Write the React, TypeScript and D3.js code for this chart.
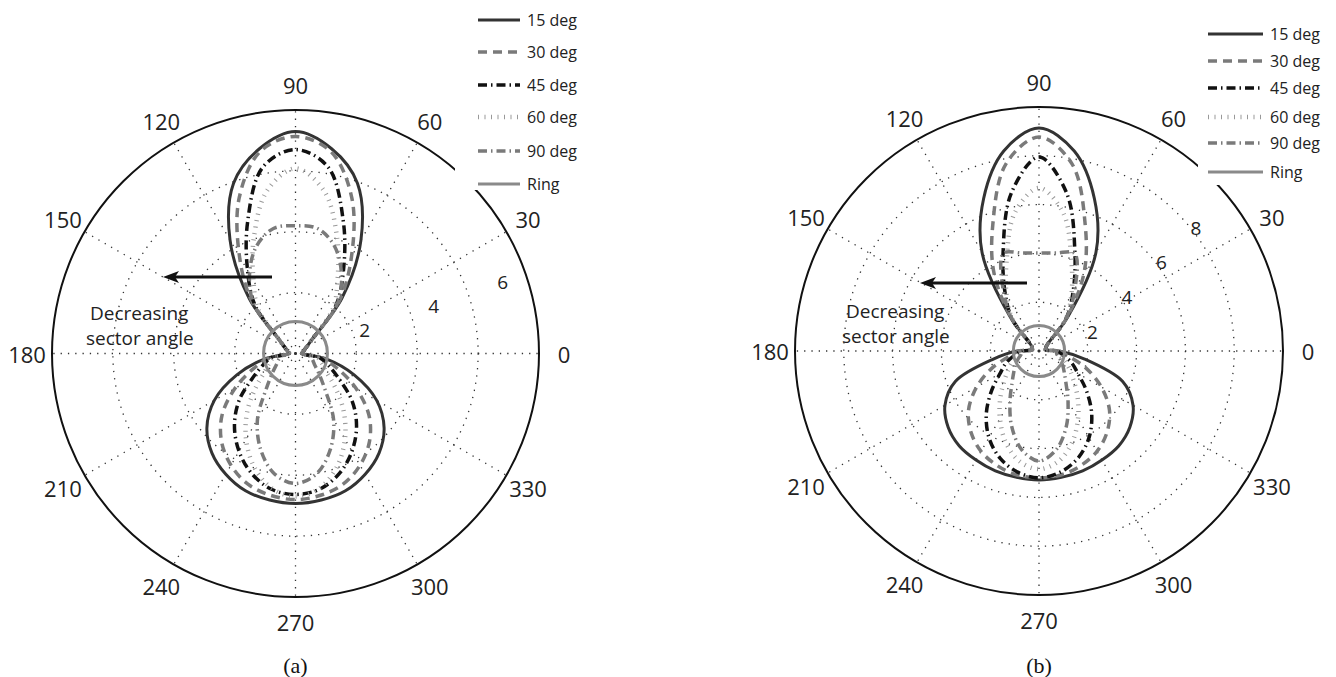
import React from "react";
import * as d3 from "d3";

// sample angles (deg, counter-clockwise from 0 on the right)
const ANGLES = [0, 10, 20, 30, 40, 50, 60, 70, 80, 90, 100, 110, 120, 130, 140, 150, 160, 170,
	180, 190, 200, 210, 220, 230, 240, 250, 260, 270, 280, 290, 300, 310, 320, 330, 340, 350];

const SERIES = ["15 deg", "30 deg", "45 deg", "60 deg", "90 deg"];
const RING_LABEL = "Ring";
const RING_R = 1.05;

// panel (a)
const A_15 = [0.2, 0.24, 0.3, 0.41, 0.69, 2.37, 4.3, 5.95, 6.83, 7.29, 6.83, 5.95, 4.3, 2.37, 0.69, 0.41, 0.3, 0.24,
	0.2, 1.02, 2.05, 3.08, 3.8, 4.27, 4.58, 4.8, 4.89, 4.93, 4.89, 4.8, 4.58, 4.27, 3.8, 3.08, 2.05, 1.02];
const A_30 = [0.2, 0.24, 0.3, 0.41, 0.69, 2.23, 3.68, 5.42, 6.73, 7.13, 6.73, 5.42, 3.68, 2.23, 0.69, 0.41, 0.3, 0.24,
	0.2, 0.89, 1.48, 2.3, 3.15, 3.78, 4.24, 4.57, 4.73, 4.8, 4.73, 4.57, 4.24, 3.78, 3.15, 2.3, 1.48, 0.89];
const A_45 = [0.2, 0.24, 0.3, 0.41, 0.69, 2.07, 3.15, 4.6, 6.21, 6.7, 6.21, 4.6, 3.15, 2.07, 0.69, 0.41, 0.3, 0.24,
	0.2, 0.82, 1.15, 1.64, 2.43, 3.12, 3.71, 4.2, 4.53, 4.63, 4.53, 4.2, 3.71, 3.12, 2.43, 1.64, 1.15, 0.82];
const A_60 = [0.2, 0.24, 0.3, 0.41, 0.69, 1.91, 2.76, 4.01, 5.42, 6.08, 5.42, 4.01, 2.76, 1.91, 0.69, 0.41, 0.3, 0.24,
	0.2, 0.72, 0.92, 1.15, 1.68, 2.46, 3.25, 3.97, 4.5, 4.7, 4.5, 3.97, 3.25, 2.46, 1.68, 1.15, 0.92, 0.72];
const A_90 = [0.2, 0.24, 0.3, 0.41, 0.69, 2.14, 3.02, 3.75, 4.17, 4.2, 4.17, 3.75, 3.02, 2.14, 0.69, 0.41, 0.3, 0.24,
	0.2, 0.46, 0.59, 0.72, 0.99, 1.48, 2.5, 3.35, 4.01, 4.27, 4.01, 3.35, 2.5, 1.48, 0.99, 0.72, 0.59, 0.46];

// panel (b)
const B_15 = [0.82, 0.27, 0.29, 0.33, 0.49, 1.85, 4.67, 6.64, 8.32, 9.14, 8.32, 6.64, 4.67, 1.85, 0.49, 0.33, 0.29, 0.27,
	0.9, 1.9, 3.65, 4.45, 4.86, 5.08, 5.16, 5.23, 5.26, 5.29, 5.26, 5.23, 5.16, 5.08, 4.86, 4.45, 3.65, 1.9];
const B_30 = [0.82, 0.27, 0.29, 0.33, 0.49, 1.75, 3.69, 5.53, 7.79, 8.77, 7.79, 5.53, 3.69, 1.75, 0.49, 0.33, 0.29, 0.27,
	0.82, 1.23, 2.05, 2.95, 3.77, 4.34, 4.75, 5.0, 5.16, 5.2, 5.16, 5.0, 4.75, 4.34, 3.77, 2.95, 2.05, 1.23];
const B_45 = [0.7, 0.27, 0.29, 0.33, 0.49, 1.72, 2.79, 4.3, 6.56, 7.95, 6.56, 4.3, 2.79, 1.72, 0.49, 0.33, 0.29, 0.27,
	0.7, 1.02, 1.43, 1.84, 2.54, 3.36, 4.1, 4.67, 5.04, 5.2, 5.04, 4.67, 4.1, 3.36, 2.54, 1.84, 1.43, 1.02];
const B_60 = [0.7, 0.27, 0.29, 0.33, 0.49, 1.7, 2.66, 3.89, 5.74, 6.68, 5.74, 3.89, 2.66, 1.7, 0.49, 0.33, 0.29, 0.27,
	0.7, 0.82, 1.11, 1.43, 1.84, 2.46, 3.2, 3.98, 4.59, 4.84, 4.59, 3.98, 3.2, 2.46, 1.84, 1.43, 1.11, 0.82];
const B_90 = [0.7, 0.27, 0.29, 0.33, 0.49, 1.72, 2.95, 4.26, 4.08, 4.02, 4.08, 4.26, 2.95, 1.72, 0.49, 0.33, 0.29, 0.27,
	0.7, 0.74, 0.9, 1.11, 1.35, 1.72, 2.38, 3.28, 4.1, 4.51, 4.1, 3.28, 2.38, 1.72, 1.35, 1.11, 0.9, 0.74];

const THETA_TICKS = [0, 30, 60, 90, 120, 150, 180, 210, 240, 270, 300, 330];
const A_RTICKS = [2, 4, 6];
const B_RTICKS = [2, 4, 6, 8];

const FONT = "'Open Sans', sans-serif";

const STYLES = [
	{ color: "#333", width: 3, dash: null },
	{ color: "#7a7a7a", width: 3.5, dash: "9,6" },
	{ color: "#111", width: 3.5, dash: "9,4,1.5,4" },
	{ color: "#999", width: 4.5, dash: "1,5.5" },
	{ color: "#7a7a7a", width: 3.5, dash: "9,4,1.5,4" },
];
const RING_STYLE = { color: "#8a8a8a", width: 3 };

const rad = (deg) => (deg * Math.PI) / 180;

const Polar = (props) => {
	const { cx, cy, R, rmax, rticks, data, legend, labelPos, arrow, note, caption, gap } = props;
	const r = d3.scaleLinear().domain([0, rmax]).range([0, R]);
	const line = d3
		.lineRadial()
		.angle((d) => Math.PI / 2 - rad(d[0]))
		.radius((d) => r(d[1]))
		.curve(d3.curveCatmullRomClosed.alpha(0.5));
	const dotted = { stroke: "#333", strokeWidth: 1.3, strokeDasharray: "1.3,6", fill: "none" };

	return (
		<g>
			<g transform={`translate(${cx},${cy})`}>
				{rticks.map((t) => (
					<circle key={t} r={r(t)} {...dotted}></circle>
				))}
				{THETA_TICKS.map((a) => (
					<line key={a} x1={0} y1={0} x2={R * Math.cos(rad(a))} y2={-R * Math.sin(rad(a))} {...dotted}></line>
				))}
				<circle r={R} fill="none" stroke="#111" strokeWidth={2}></circle>
				{data.map((vals, i) => (
					<path
						key={i}
						d={line(ANGLES.map((a, j) => [a, vals[j]]))}
						fill="none"
						stroke={STYLES[i].color}
						strokeWidth={STYLES[i].width}
						strokeDasharray={STYLES[i].dash || undefined}
					></path>
				))}
				<circle r={r(RING_R)} fill="none" stroke={RING_STYLE.color} strokeWidth={RING_STYLE.width}></circle>
				{THETA_TICKS.map((a) => (
					<text
						key={a}
						x={(R + 25) * Math.cos(rad(a))}
						y={-(R + 25) * Math.sin(rad(a))}
						textAnchor="middle"
						dominantBaseline="central"
						fontSize={22}
						fontFamily={FONT}
						fill="#222"
					>
						{a}
					</text>
				))}
				{rticks.map((t) => {
					const [x, y] = labelPos(r(t));
					return (
						<text key={t} x={x} y={y} textAnchor="middle" dominantBaseline="central" fontSize={19} fontFamily={FONT} fill="#222">
							{t}
						</text>
					);
				})}
			</g>
			<rect x={gap[0]} y={gap[1]} width={gap[2]} height={gap[3]} fill="#fff"></rect>
			{SERIES.concat([RING_LABEL]).map((s, i) => {
				const st = i < 5 ? STYLES[i] : { ...RING_STYLE, dash: null };
				const y = legend.rows[i];
				return (
					<g key={s}>
						<line
							x1={legend.x}
							x2={legend.x + legend.len}
							y1={y}
							y2={y}
							stroke={st.color}
							strokeWidth={st.width}
							strokeDasharray={st.dash || undefined}
						></line>
						<text x={legend.x + legend.len + 7} y={y} dominantBaseline="central" fontSize={16} fontFamily={FONT} fill="#222">
							{s}
						</text>
					</g>
				);
			})}
			<line x1={arrow.x1} x2={arrow.x0 + 10} y1={arrow.y} y2={arrow.y} stroke="#111" strokeWidth={3}></line>
			<path
				d={`M${arrow.x0},${arrow.y} L${arrow.x0 + 16},${arrow.y - 6} L${arrow.x0 + 12},${arrow.y} L${arrow.x0 + 16},${arrow.y + 6} Z`}
				fill="#111"
			></path>
			<text x={note.x} y={note.y} fontSize={19} fontFamily={FONT} fill="#222">
				Decreasing
			</text>
			<text x={note.x - 4} y={note.y + 25} fontSize={19} fontFamily={FONT} fill="#222">
				sector angle
			</text>
			<text x={cx} y={673} textAnchor="middle" fontSize={22} fontFamily="'Liberation Serif', serif" fill="#111">
				{caption}
			</text>
		</g>
	);
};

const App = () => {
	return (
		<svg width={1336} height={677} style={{ position: "absolute", left: 0, top: 0, background: "#fff" }}>
			<Polar
				cx={295.5}
				cy={353.5}
				R={243.5}
				rmax={8}
				rticks={A_RTICKS}
				data={[A_15, A_30, A_45, A_60, A_90]}
				legend={{ x: 478, len: 42, rows: [20, 52, 85, 117, 151, 184] }}
				labelPos={(p) => [p * 1.2 * Math.cos(rad(19)), -p * 1.2 * Math.sin(rad(19))]}
				arrow={{ x0: 163, x1: 272, y: 277 }}
				note={{ x: 90, y: 320 }}
				caption="(a)"
				gap={[455, 0, 150, 190]}
			></Polar>
			<Polar
				cx={1039}
				cy={351}
				R={244}
				rmax={10}
				rticks={B_RTICKS}
				data={[B_15, B_30, B_45, B_60, B_90]}
				legend={{ x: 1208, len: 55, rows: [34, 61, 88, 117, 143, 172] }}
				labelPos={(p) => [p * Math.cos(rad(45)) + 19, -p * Math.sin(rad(45)) + 15]}
				arrow={{ x0: 920, x1: 1027, y: 283 }}
				note={{ x: 846, y: 318 }}
				caption="(b)"
				gap={[1198, 15, 138, 170]}
			></Polar>
		</svg>
	);
};

export default App;
